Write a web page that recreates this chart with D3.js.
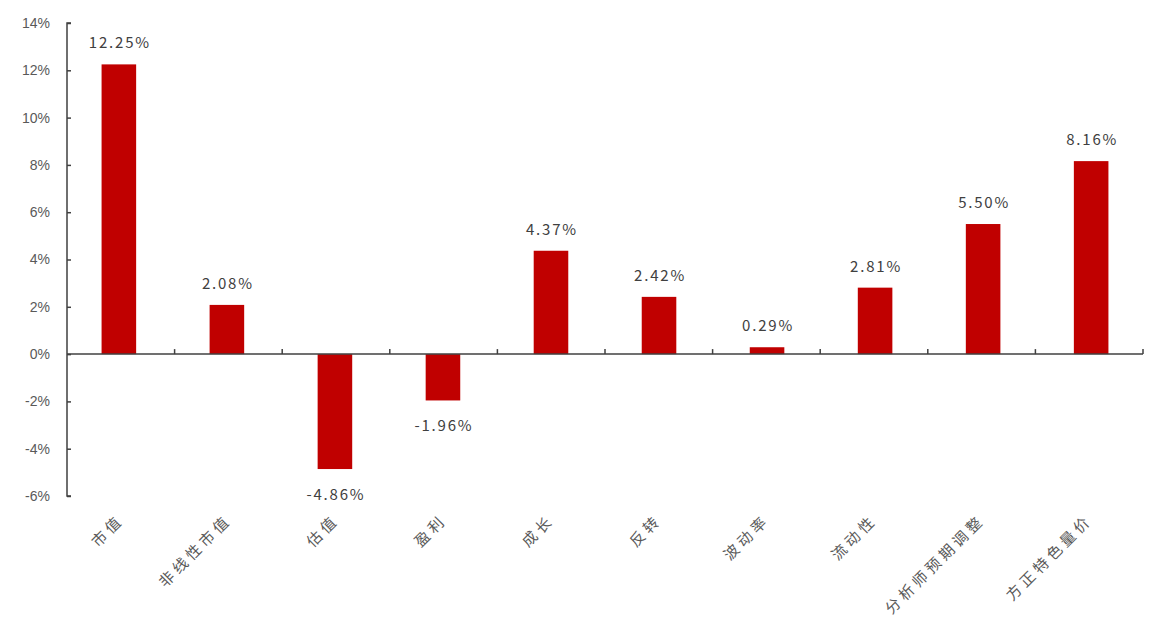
<!DOCTYPE html>
<html><head><meta charset="utf-8">
<script src="https://cdn.jsdelivr.net/npm/d3@7/dist/d3.min.js"></script>
<style>body{margin:0;background:#fff;}</style>
</head><body>
<svg id="chart" width="1161" height="633"></svg>
<script>
const categories = ["市值","非线性市值","估值","盈利","成长","反转","波动率","流动性","分析师预期调整","方正特色量价"];
const values = [12.25, 2.08, -4.86, -1.96, 4.37, 2.42, 0.29, 2.81, 5.50, 8.16];
const yTicks = [-6,-4,-2,0,2,4,6,8,10,12,14];

(function(){
const svg = d3.select("#chart");
const mLeft = 67, mRight = 1143, mTop = 23, mBottom = 496;
const x = d3.scaleBand().domain(categories).range([mLeft, mRight]).paddingInner(0.68).paddingOuter(0.32);
const xb = d3.scaleBand().domain(categories).range([mLeft, mRight]);
const y = d3.scaleLinear().domain([-6, 14]).range([mBottom, mTop]);
const axisColor = "#404040", textColor = "#595959";

// y axis
const yAxis = svg.append("g").attr("transform", `translate(${mLeft},0)`)
  .call(d3.axisLeft(y).tickValues(yTicks).tickSize(-4).tickPadding(17).tickFormat(d => d + "%"));
yAxis.select(".domain").attr("stroke", axisColor).attr("stroke-width", 1.5).attr("d", `M4,${mBottom}H0V${mTop}H4`);
yAxis.selectAll(".tick line").attr("stroke", axisColor).attr("stroke-width", 1.5);
yAxis.selectAll(".tick text").attr("fill", textColor).style("font-family", "Liberation Sans, Arial, sans-serif").style("font-size", "14px");

// bars
svg.append("g").selectAll("rect").data(values).join("rect")
  .attr("x", (d, i) => x(categories[i]))
  .attr("width", x.bandwidth())
  .attr("y", d => y(Math.max(0, d)))
  .attr("height", d => Math.abs(y(d) - y(0)))
  .attr("fill", "#C00000");

// x axis at zero
const xAxisG = svg.append("g").attr("transform", `translate(0,${y(0)})`);
xAxisG.append("line").attr("x1", mLeft).attr("x2", mRight).attr("stroke", axisColor).attr("stroke-width", 1.5);
xAxisG.selectAll("line.tk").data(categories).join("line").attr("class","tk")
  .attr("x1", d => xb(d) + xb.bandwidth()).attr("x2", d => xb(d) + xb.bandwidth())
  .attr("y1", 0).attr("y2", -5).attr("stroke", axisColor).attr("stroke-width", 1.5);

// data labels
svg.append("g").selectAll("text").data(values).join("text")
  .attr("x", (d, i) => x(categories[i]) + x.bandwidth() / 2 + 1)
  .attr("y", d => d >= 0 ? y(d) - 16 : y(d) + 31)
  .attr("text-anchor", "middle")
  .attr("fill", "#404040")
  .style("font-family", "Noto Sans CJK SC, sans-serif")
  .style("font-size", "15px")
  .style("letter-spacing", "1.8px")
  .text(d => d.toFixed(2) + "%");

// category labels
svg.append("g").selectAll("text").data(categories).join("text")
  .attr("transform", d => `translate(${xb(d) + xb.bandwidth()/2 + 4},${mBottom + 25}) rotate(-45)`)
  .attr("text-anchor", "end")
  .attr("fill", textColor)
  .style("font-family", "Noto Sans CJK SC, sans-serif")
  .style("font-size", "15px")
  .style("letter-spacing", "4px")
  .text(d => d);
})();
</script>
</body></html>
